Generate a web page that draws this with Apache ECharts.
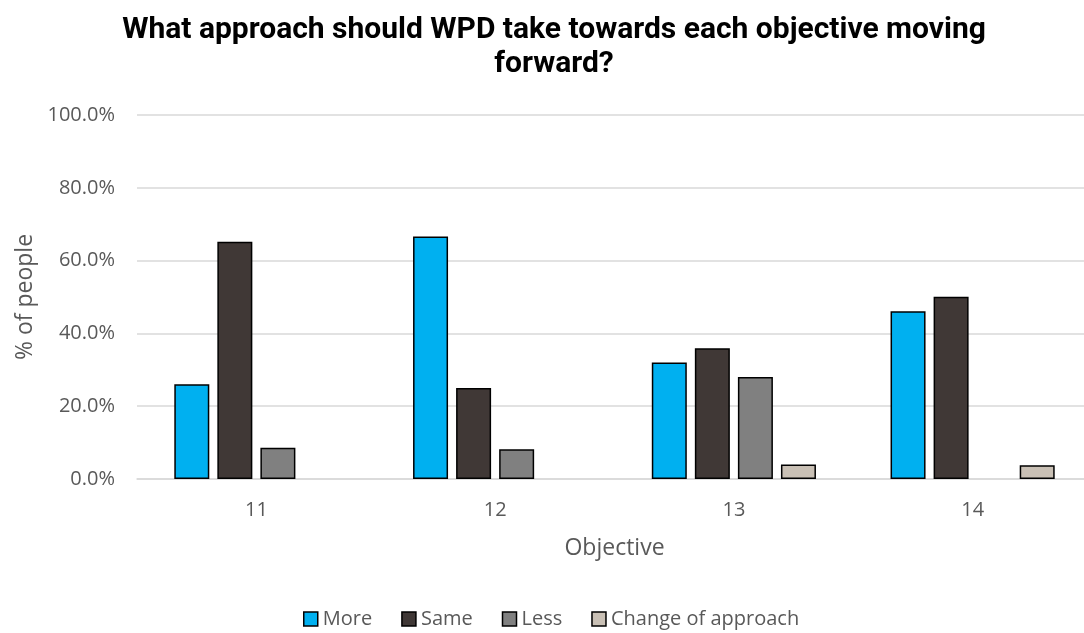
<!DOCTYPE html>
<html>
<head>
<meta charset="utf-8">
<script src="https://cdn.jsdelivr.net/npm/echarts@6/dist/echarts.min.js"></script>
<style>
  html, body { margin: 0; padding: 0; background: #fff; overflow: hidden; }
  #chart { width: 1084px; height: 633px; }
</style>
</head>
<body>
<div id="chart"></div>
<script>
const objectives = ['11', '12', '13', '14']
// null = no bar drawn in the original
const more = [26.0, 66.6, 32.0, 46.1]
const same = [65.2, 25.0, 35.9, 50.1]
const less = [8.6, 8.2, 28.0, null]
const changeOfApproach = [null, null, 4.0, 3.8]

const font = '"Open Sans", "Noto Sans", sans-serif'
const colors = ['#00B0F0', '#403836', '#808080', '#C9C0B5']

const chart = echarts.init(document.getElementById('chart'))

const barStyle = (name, data, i) => ({
  name,
  type: 'bar',
  data,
  barWidth: 35,
  barGap: '23%',
  itemStyle: { color: colors[i], borderColor: '#000', borderWidth: 1.5 }
})

chart.setOption({
  animation: false,
  title: {
    text: 'What approach should WPD take towards each objective moving\nforward?',
    left: 549,
    textAlign: 'center',
    top: 8,
    textStyle: {
      fontFamily: 'Roboto, sans-serif',
      fontWeight: 'bold',
      fontSize: 30,
      lineHeight: 34,
      color: '#000'
    }
  },
  legend: {
    bottom: -1,
    left: 298,
    itemWidth: 14,
    itemHeight: 14,
    itemGap: 29,
    icon: 'rect',
    textStyle: { fontFamily: font, fontSize: 20, color: '#595959' },
    data: ['More', 'Same', 'Less', 'Change of approach'].map((n, i) => ({
      name: n,
      itemStyle: { color: colors[i], borderColor: '#000', borderWidth: 1.5 }
    }))
  },
  grid: { left: 137, width: 955, top: 115, height: 364, outerBoundsMode: 'none' },
  xAxis: {
    type: 'category',
    data: objectives,
    name: 'Objective',
    nameLocation: 'middle',
    nameGap: 58,
    nameTextStyle: { fontFamily: font, fontSize: 23, color: '#595959' },
    axisLine: { lineStyle: { color: '#d9d9d9', width: 1.5 } },
    axisTick: { show: false },
    axisLabel: { fontFamily: font, fontSize: 20, color: '#595959', margin: 21 }
  },
  yAxis: {
    type: 'value',
    min: 0,
    max: 100,
    interval: 20,
    name: '% of people',
    nameLocation: 'middle',
    nameGap: 92,
    nameTextStyle: { fontFamily: font, fontSize: 23, color: '#595959' },
    axisLabel: {
      fontFamily: font,
      fontSize: 20,
      color: '#595959',
      margin: 22,
      formatter: v => v.toFixed(1) + '%'
    },
    splitLine: { lineStyle: { color: '#d9d9d9', width: 1.5 } }
  },
  series: [
    barStyle('More', more, 0),
    barStyle('Same', same, 1),
    barStyle('Less', less, 2),
    barStyle('Change of approach', changeOfApproach, 3)
  ]
})
</script>
</body>
</html>
